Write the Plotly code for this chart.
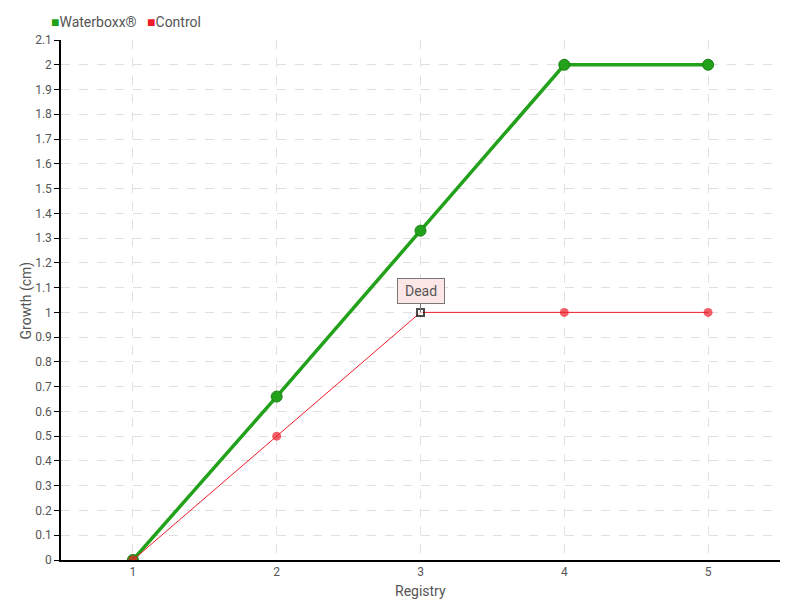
import plotly.graph_objects as go

registry = [1, 2, 3, 4, 5]
waterboxx = [0, 0.66, 1.33, 2, 2]
control = [0, 0.5, 1, 1, 1]
y_ticks = [round(i * 0.1, 1) for i in range(22)]
y_labels = [f"{v:g}" for v in y_ticks]
series_names = ["Waterboxx®", "Control"]
x_title = "Registry"
y_title = "Growth (cm)"
note_text = "Dead"
note_index = 2

font_family = "Roboto, Lato, sans-serif"
green = "#22a11a"
red = "#ee1c2a"

ctrl_colors = [red] * len(control)
ctrl_line = [red] * len(control)
ctrl_colors[note_index] = "white"
ctrl_line[note_index] = "black"

fig = go.Figure()
fig.add_trace(go.Scatter(
    x=registry, y=waterboxx, name=series_names[0], mode="lines+markers",
    line=dict(color=green, width=3.5),
    marker=dict(color=green, size=11, line=dict(color="#1c7f16", width=1)),
))
fig.add_trace(go.Scatter(
    x=registry, y=control, name=series_names[1], mode="lines+markers",
    line=dict(color=red, width=1),
    marker=dict(color=ctrl_colors, size=[9, 9, 7, 9, 9], symbol=["circle", "circle", "square", "circle", "circle"],
                line=dict(color=ctrl_line, width=[0, 0, 2, 0, 0])),
))
legend_html = (f"<span style='color:{green}'>■</span>{series_names[0]}   "
               f"<span style='color:{red}'>■</span>{series_names[1]}")
fig.add_annotation(
    xref="paper", yref="paper", x=-0.016, y=1.035, xanchor="left", yanchor="middle",
    text=legend_html, showarrow=False, font=dict(family=font_family, size=14, color="#555"),
)
fig.add_annotation(
    xref="paper", yref="paper", x=-0.048, y=0.5, xanchor="center", yanchor="middle",
    text=y_title, textangle=-90, showarrow=False, font=dict(family=font_family, size=14, color="#555"),
)
fig.add_annotation(
    xref="paper", yref="paper", x=0.5, y=-0.06, xanchor="center", yanchor="middle",
    text=x_title, showarrow=False, font=dict(family=font_family, size=14, color="#555"),
)
fig.add_annotation(
    x=registry[note_index], y=control[note_index], text=note_text,
    showarrow=True, arrowhead=0, arrowwidth=1, arrowcolor="#777", ax=0, ay=-21,
    width=38, height=16,
    bgcolor="#fde6e6", bordercolor="#777", borderwidth=1, borderpad=4,
    font=dict(family=font_family, size=14, color="#555"),
)
fig.update_layout(
    width=792, height=592,
    margin=dict(l=53, r=20, t=32, b=40, autoexpand=False),
    paper_bgcolor="white", plot_bgcolor="white",
    font=dict(family=font_family, size=12, color="#555"),
    showlegend=False,
)
fig.update_xaxes(
    range=[0.5, 5.5], tickvals=registry, ticktext=[str(r) for r in registry],
    showline=True, linecolor="black", linewidth=1.5, ticks="", mirror=False,
    showgrid=True, gridcolor="#e0e0e0", griddash="dash", zeroline=False,
    tickfont=dict(size=12),
)
fig.update_yaxes(
    range=[0, 2.1], tickvals=y_ticks, ticktext=y_labels,
    showline=True, linecolor="black", linewidth=1.5, ticks="outside", ticklen=5, tickcolor="black",
    showgrid=True, gridcolor="#e0e0e0", griddash="dash", zeroline=False,
    tickfont=dict(size=12),
)
fig.write_html("out.html")
